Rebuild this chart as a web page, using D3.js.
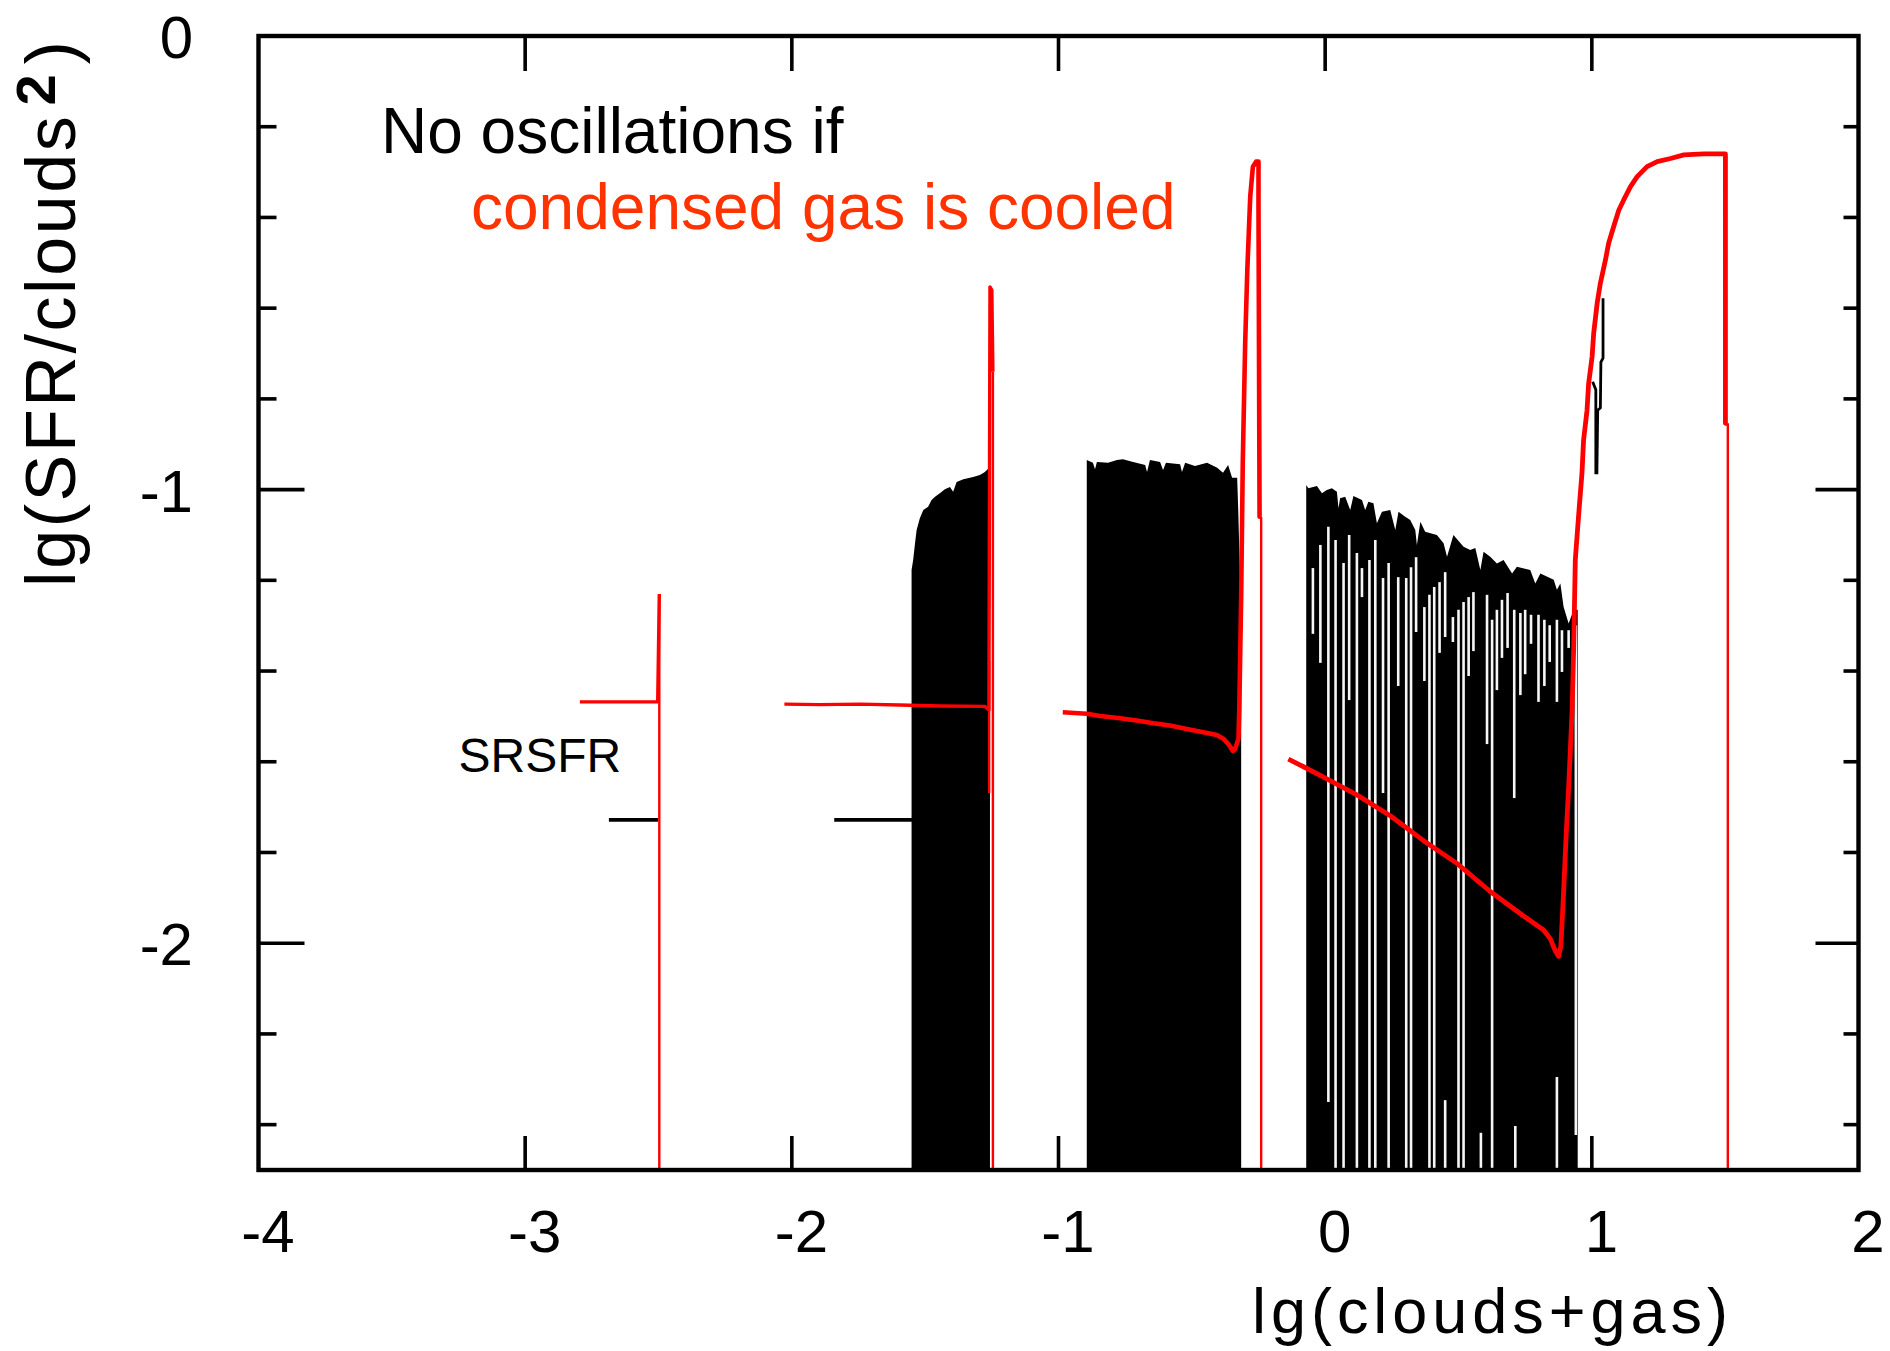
<!DOCTYPE html>
<html><head><meta charset="utf-8">
<script src="https://cdn.jsdelivr.net/npm/d3@7"></script>
<style>html,body{margin:0;padding:0;background:#fff;} svg{display:block;}</style>
</head><body>
<svg id="chart" width="1890" height="1351"></svg>
<script>
// ---------- axis / tick data ----------
const xDomain = [-4, 2];
const yDomain = [-2.5, 0];
const xTickValues = [-4, -3, -2, -1, 0, 1, 2];
const xTickLabels = ["-4", "-3", "-2", "-1", "0", "1", "2"];
const xInnerTicks = [-3, -2, -1, 0, 1];
const yTickValues = [0, -1, -2];
const yTickLabels = ["0", "-1", "-2"];
const yMajorInner = [-1, -2];
const yMinorTicks = [-0.2, -0.4, -0.6, -0.8, -1.2, -1.4, -1.6, -1.8, -2.2, -2.4];

// ---------- black series (no cooling of condensed gas) ----------
const blackFlat1 = [[-2.686, -1.728], [-2.502, -1.728]];
const blackFlat2 = [[-1.841, -1.728], [-1.548, -1.728]];
// top envelope of the oscillating bands (lower envelope = below the plot)
const band1Top = [
  [-1.551, -1.177], [-1.545, -1.155], [-1.538, -1.118], [-1.532, -1.089], [-1.520, -1.063],
  [-1.507, -1.045], [-1.489, -1.038], [-1.476, -1.023], [-1.463, -1.016], [-1.445, -1.008],
  [-1.426, -0.999], [-1.407, -0.994], [-1.395, -1.005], [-1.382, -0.983], [-1.357, -0.977],
  [-1.320, -0.972], [-1.295, -0.968], [-1.276, -0.961], [-1.257, -0.950]
];
const band2Top = [
  [-0.894, -0.935], [-0.871, -0.941], [-0.863, -0.955], [-0.856, -0.939], [-0.814, -0.941],
  [-0.781, -0.935], [-0.758, -0.933], [-0.720, -0.939], [-0.675, -0.946], [-0.668, -0.961],
  [-0.657, -0.935], [-0.619, -0.939], [-0.608, -0.957], [-0.597, -0.941], [-0.544, -0.944],
  [-0.537, -0.961], [-0.525, -0.941], [-0.488, -0.948], [-0.443, -0.941], [-0.405, -0.952],
  [-0.383, -0.963], [-0.364, -0.946], [-0.349, -0.974], [-0.330, -0.974], [-0.326, -1.045],
  [-0.319, -1.199], [-0.315, -1.243]
];
const band3Top = [
  [-0.071, -0.990], [-0.063, -0.997], [-0.031, -0.992], [-0.012, -1.008], [0.006, -1.001],
  [0.025, -0.997], [0.044, -1.005], [0.050, -1.041], [0.056, -1.019], [0.075, -1.016],
  [0.094, -1.045], [0.106, -1.014], [0.138, -1.023], [0.150, -1.045], [0.162, -1.027],
  [0.181, -1.030], [0.194, -1.074], [0.213, -1.049], [0.244, -1.045], [0.263, -1.089],
  [0.275, -1.049], [0.300, -1.060], [0.319, -1.067], [0.338, -1.089], [0.344, -1.122],
  [0.357, -1.071], [0.375, -1.093], [0.419, -1.100], [0.444, -1.118], [0.457, -1.148],
  [0.481, -1.100], [0.519, -1.126], [0.544, -1.133], [0.563, -1.129], [0.582, -1.177],
  [0.594, -1.137], [0.619, -1.148], [0.644, -1.163], [0.669, -1.155], [0.701, -1.185],
  [0.719, -1.170], [0.769, -1.177], [0.788, -1.207], [0.807, -1.185], [0.857, -1.199],
  [0.869, -1.221], [0.882, -1.207], [0.894, -1.258], [0.913, -1.295], [0.932, -1.265],
  [0.947, -1.265]
];
// white gaps inside the third band: [x, top, bottom]
const band3Gaps = [
  [-0.046, -1.173, -1.318], [-0.018, -1.122, -1.382], [0.012, -1.082, -2.350], [0.039, -1.111, -2.5],
  [0.069, -1.162, -2.5], [0.090, -1.100, -1.464], [0.119, -1.140, -2.5], [0.138, -1.173, -1.237],
  [0.166, -1.155, -2.5], [0.188, -1.111, -2.5], [0.217, -1.195, -1.669], [0.238, -1.162, -2.5],
  [0.274, -1.193, -1.433], [0.304, -1.195, -2.5], [0.322, -1.171, -2.5], [0.341, -1.149, -1.314],
  [0.372, -1.259, -1.422], [0.391, -1.232, -2.5], [0.409, -1.215, -2.5], [0.429, -1.204, -1.360],
  [0.450, -1.182, -1.325], [0.450, -2.346, -2.5], [0.479, -1.281, -1.336], [0.500, -1.265, -2.5],
  [0.519, -1.248, -2.5], [0.538, -1.237, -1.411], [0.556, -1.226, -1.356], [0.584, -2.418, -2.5],
  [0.607, -1.232, -1.561], [0.626, -1.287, -2.5], [0.644, -1.265, -1.442], [0.663, -1.243, -1.371],
  [0.684, -1.228, -1.349], [0.709, -1.265, -1.680], [0.713, -2.403, -2.5], [0.732, -1.272, -1.453],
  [0.750, -1.265, -1.407], [0.772, -1.276, -1.340], [0.800, -1.276, -1.468], [0.822, -1.287, -1.433],
  [0.842, -1.299, -1.380], [0.869, -1.287, -1.468], [0.869, -2.295, -2.5], [0.888, -1.310, -1.402],
  [0.913, -1.310, -1.349], [0.940, -1.299, -2.423]
];
// black trace alongside the last red rise
const blackTrace = [
  [1.003, -0.762], [1.015, -0.780], [1.015, -0.963], [1.019, -0.963], [1.022, -0.825],
  [1.032, -0.820], [1.034, -0.719], [1.042, -0.710], [1.042, -0.578]
];

// ---------- red series (condensed gas is cooled) ----------
const redA = [[-2.795, -1.468], [-2.503, -1.468], [-2.497, -1.230]];
const redB = [
  [-2.028, -1.473], [-1.895, -1.474], [-1.745, -1.473], [-1.595, -1.475], [-1.445, -1.477],
  [-1.276, -1.478], [-1.261, -1.486], [-1.257, -0.553], [-1.250, -0.560], [-1.246, -0.740]
];
const redB2 = [[-1.260, -1.378], [-1.260, -1.669]];
const redC = [
  [-0.984, -1.491], [-0.894, -1.494], [-0.844, -1.499], [-0.769, -1.504], [-0.707, -1.509],
  [-0.644, -1.515], [-0.582, -1.520], [-0.519, -1.528], [-0.457, -1.535], [-0.406, -1.541],
  [-0.382, -1.549], [-0.363, -1.561], [-0.346, -1.576], [-0.338, -1.572], [-0.325, -1.549],
  [-0.322, -1.484], [-0.315, -1.236], [-0.309, -0.941], [-0.300, -0.677], [-0.292, -0.516],
  [-0.281, -0.354], [-0.271, -0.288], [-0.259, -0.277], [-0.250, -0.277], [-0.250, -0.376],
  [-0.246, -1.060], [-0.240, -1.060]
];
const redD = [
  [-0.138, -1.594], [-0.081, -1.611], [-0.006, -1.634], [0.119, -1.673], [0.244, -1.719],
  [0.369, -1.774], [0.494, -1.824], [0.619, -1.886], [0.744, -1.940], [0.819, -1.971],
  [0.844, -1.990], [0.863, -2.017], [0.875, -2.029], [0.884, -2.006], [0.894, -1.889],
  [0.904, -1.758], [0.913, -1.657], [0.919, -1.580], [0.926, -1.487], [0.932, -1.348],
  [0.938, -1.155], [0.950, -1.060], [0.963, -0.964], [0.969, -0.891], [0.982, -0.825],
  [0.988, -0.766], [1.001, -0.707], [1.007, -0.655], [1.020, -0.589], [1.032, -0.545],
  [1.051, -0.494], [1.063, -0.457], [1.082, -0.420], [1.101, -0.384], [1.119, -0.362],
  [1.145, -0.332], [1.170, -0.310], [1.207, -0.288], [1.245, -0.277], [1.295, -0.270],
  [1.345, -0.262], [1.420, -0.260], [1.501, -0.260], [1.501, -0.854], [1.510, -0.854]
];
// vertical drops of the red curve to the bottom of the frame: [x, from]
const redDrops = [[-2.497, -1.230], [-1.246, -0.740], [-0.240, -1.060], [1.510, -0.854]];

// ---------- texts ----------
const yTitle = "lg(SFR/clouds";
const yTitleSup = "2";
const xTitle = "lg(clouds+gas)";
const note1 = "No oscillations if";
const note2 = "condensed gas is cooled";
const seriesLabel = "SRSFR";

// ---------- drawing ----------
const FONT = "'Liberation Sans', Arial, Helvetica, sans-serif";
const svg = d3.select("#chart");
svg.append("rect").attr("width", 1890).attr("height", 1351).attr("fill", "#fff");

const L = 258.5, R = 1858.5, T = 36, B = 1170;
const x = d3.scaleLinear().domain(xDomain).range([L, R]);
const y = d3.scaleLinear().domain(yDomain).range([B, T]);

const line = d3.line().x(d => x(d[0])).y(d => y(d[1]));
const area = d3.area().x(d => x(d[0])).y0(y(yDomain[0])).y1(d => y(d[1]));

const plot = svg.append("g");
[band1Top, band2Top, band3Top].forEach(b => {
  plot.append("path").attr("d", area(b)).attr("fill", "#000");
});
plot.selectAll("line.gap").data(band3Gaps).join("line").attr("class", "gap")
  .attr("x1", d => x(d[0])).attr("x2", d => x(d[0]))
  .attr("y1", d => y(d[1])).attr("y2", d => y(d[2]))
  .attr("stroke", "#f6f6f6").attr("stroke-width", 2.6);
[blackFlat1, blackFlat2].forEach(s => {
  plot.append("path").attr("d", line(s)).attr("fill", "none").attr("stroke", "#000").attr("stroke-width", 3.8);
});
plot.append("path").attr("d", line(blackTrace)).attr("fill", "none").attr("stroke", "#000").attr("stroke-width", 2.8);

const RED = "#ff0000";
plot.selectAll("line.drop").data(redDrops).join("line").attr("class", "drop")
  .attr("x1", d => x(d[0])).attr("x2", d => x(d[0]))
  .attr("y1", d => y(d[1])).attr("y2", y(yDomain[0]))
  .attr("stroke", RED).attr("stroke-width", 2.4);
[[redA, 3.4], [redB, 3.4], [redB2, 2.4], [redC, 4.6], [redD, 4.8]].forEach(([s, w]) => {
  plot.append("path").attr("d", line(s)).attr("fill", "none").attr("stroke", RED)
    .attr("stroke-width", w).attr("stroke-linejoin", "round");
});

// ---------- frame and ticks ----------
const axes = svg.append("g").attr("stroke", "#000").attr("stroke-width", 3.6);
function ticks(values, fn) {
  values.forEach(v => { const p = fn(v); axes.append("line").attr("x1", p[0]).attr("y1", p[1]).attr("x2", p[2]).attr("y2", p[3]); });
}
ticks(xInnerTicks, v => [x(v), B, x(v), B - 34]);
ticks(xInnerTicks, v => [x(v), T, x(v), T + 35]);
ticks(yMinorTicks, v => [L, y(v), L + 18, y(v)]);
ticks(yMinorTicks, v => [R, y(v), R - 15, y(v)]);
ticks(yMajorInner, v => [L, y(v), L + 46, y(v)]);
ticks(yMajorInner, v => [R, y(v), R - 43, y(v)]);
svg.append("rect").attr("x", L).attr("y", T).attr("width", R - L).attr("height", B - T)
  .attr("fill", "none").attr("stroke", "#000").attr("stroke-width", 4.4);

// tick labels via d3 axes
const gx = svg.append("g").attr("transform", `translate(0,${B})`)
  .call(d3.axisBottom(x).tickValues(xTickValues).tickSize(0).tickPadding(39.5)
    .tickFormat((d, i) => xTickLabels[i]));
gx.select(".domain").remove();
gx.selectAll("text").attr("font-family", FONT).attr("font-size", 60).attr("fill", "#000").attr("dx", 9);

const gy = svg.append("g").attr("transform", `translate(${L},0)`)
  .call(d3.axisLeft(y).tickValues(yTickValues).tickSize(0).tickPadding(L - 193)
    .tickFormat((d, i) => yTickLabels[i]));
gy.select(".domain").remove();
gy.selectAll("text").attr("font-family", FONT).attr("font-size", 60).attr("fill", "#000").attr("dy", "0.36em");

// axis titles
svg.append("text").attr("x", 1252).attr("y", 1333).attr("font-family", FONT).attr("font-size", 63)
  .attr("textLength", 476).attr("lengthAdjust", "spacing").text(xTitle);

const yl = svg.append("text").attr("transform", "translate(75,587) rotate(-90)")
  .attr("font-family", FONT).attr("font-size", 70).attr("fill", "#000");
yl.append("tspan").attr("letter-spacing", 2.6).text(yTitle);
yl.append("tspan").attr("font-weight", "bold").attr("font-size", 56).attr("dx", 8).attr("dy", -20).text(yTitleSup);
yl.append("tspan").attr("dx", 10).attr("dy", 20).text(")");

// annotations
svg.append("text").attr("x", 381).attr("y", 153).attr("font-family", FONT).attr("font-size", 64)
  .attr("fill", "#000").text(note1);
svg.append("text").attr("x", 471).attr("y", 229).attr("font-family", FONT).attr("font-size", 64)
  .attr("fill", "#ff3300").text(note2);
svg.append("text").attr("x", 458.5).attr("y", 772).attr("font-family", FONT).attr("font-size", 48)
  .attr("fill", "#000").text(seriesLabel);
</script>
</body></html>
